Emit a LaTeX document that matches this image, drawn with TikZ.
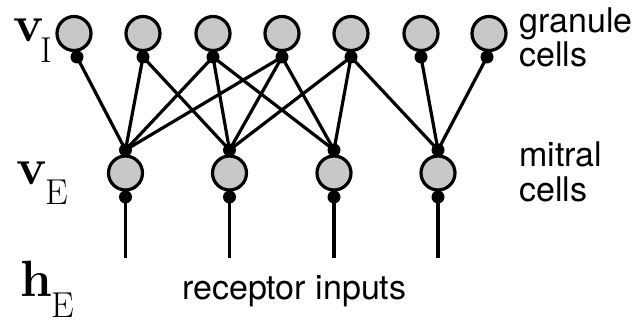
\documentclass[tikz,border=0pt]{standalone}
\usepackage{fontspec}
\newfontfamily\helv{TeX Gyre Heros}
\definecolor{cellfill}{RGB}{200,200,200}
\begin{document}
\begin{tikzpicture}[x=1pt,y=-1pt,
  cell/.style={circle,draw=black,line width=3.2pt,fill=cellfill,minimum size=34pt,inner sep=0pt},
  syn/.style={circle,fill=black,minimum size=13pt,inner sep=0pt},
  wire/.style={line width=3.2pt},
  lbl/.style={font=\helv\fontsize{34}{34}\selectfont,anchor=base west,inner sep=0pt},
  sym/.style={anchor=base west,inner sep=0pt}
  ]
\useasboundingbox (0,0) rectangle (638,323);
% granule cells
\foreach \i/\x/\dx in {1/74/77,2/143/143,3/213/213,4/282/282,5/351/351,6/421/421,7/489/487}{
  \node[cell] (g\i) at (\x,33.5) {};
  \node[syn] (gs\i) at (\dx,57) {};
}
% mitral cells
\foreach \i/\x in {1/125.5,2/229.5,3/334,4/438}{
  \node[cell] (m\i) at (\x,173) {};
  \node[syn] (mt\i) at (\x,150) {};
  \node[syn] (mb\i) at (\x,197) {};
  \coordinate (h\i) at (\x,258);
  \draw[wire] (mb\i.center) -- (h\i);
}
% connections
\foreach \g/\m in {1/1,2/1,3/1,4/1,2/2,3/2,4/2,5/2,3/3,4/3,5/3,5/4,6/4,7/4}{
  \draw[wire] (gs\g.center) -- (mt\m.center);
}
% labels
\node[sym] (vi) at (13,42) {{\fontsize{51}{51}\selectfont\bfseries v}\kern-3pt\raisebox{-21pt}{\fontsize{36}{36}\selectfont I}};
\node[sym] (ve) at (16,185) {{\fontsize{51}{51}\selectfont\bfseries v}\kern-1pt\raisebox{-20pt}{\fontsize{36}{36}\selectfont E}};
\node[sym] (he) at (20,297) {{\fontsize{51}{51}\selectfont\bfseries h}\kern-1pt\raisebox{-21pt}{\fontsize{36}{36}\selectfont E}};
\node[lbl] (gran) at (519,33) {granule};
\node[lbl] (gcells) at (519,67) {cells};
\node[lbl] (mit) at (519,167) {mitral};
\node[lbl] (mcells) at (519,202) {cells};
\node[lbl] (rec) at (182,300) {receptor inputs};
\end{tikzpicture}
\end{document}
